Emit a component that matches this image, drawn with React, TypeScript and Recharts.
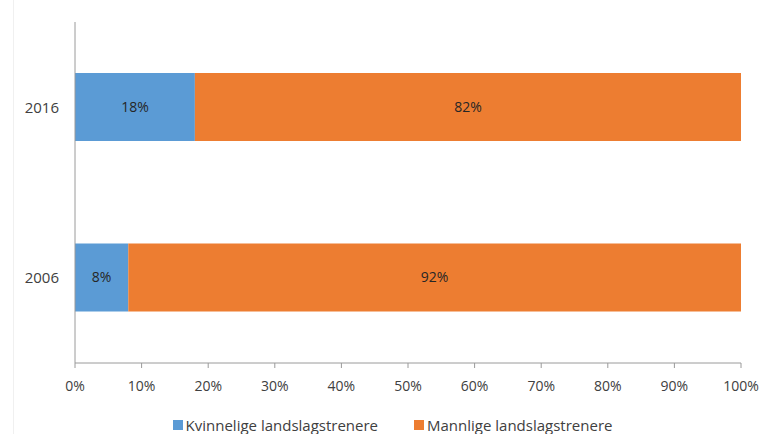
import { BarChart, Bar, XAxis, YAxis, Legend, LabelList } from 'recharts'

const years = ['2016', '2006']
const kvinner = [18, 8]
const menn = [82, 92]
const xTicks = [0, 10, 20, 30, 40, 50, 60, 70, 80, 90, 100]

const data = years.map((year, i) => ({ year, kvinner: kvinner[i], menn: menn[i] }))

const font = '"Open Sans", "Liberation Sans", sans-serif'
const textColor = '#404040'

function LegendContent() {
    const items = [
        { label: 'Kvinnelige landslagstrenere', color: '#5B9BD5' },
        { label: 'Mannlige landslagstrenere', color: '#ED7D31' },
    ]
    return (
        <div style={{ display: 'flex', justifyContent: 'center', gap: 36, paddingLeft: 34, fontFamily: font, fontSize: 15, color: textColor, lineHeight: '18px' }}>
            {items.map((it) => (
                <div key={it.label} style={{ display: 'flex', alignItems: 'center', gap: 3 }}>
                    <span style={{ width: 10, height: 10, background: it.color, display: 'inline-block' }} />
                    <span>{it.label}</span>
                </div>
            ))}
        </div>
    )
}

export default function App() {
    return (
        <div style={{ position: 'absolute', left: 0, top: 0, width: 762, height: 434, background: '#fff' }}>
            <div style={{ position: 'absolute', left: 13, top: 0, width: 1, height: 434, background: '#f0f0f0' }} />
            <BarChart
                width={762}
                height={434}
                data={data}
                layout="vertical"
                barSize={68}
                margin={{ top: 22, right: 21, bottom: 0, left: 10 }}
            >
                <XAxis
                    type="number"
                    domain={[0, 100]}
                    ticks={xTicks}
                    tickFormatter={(v) => `${v}%`}
                    stroke="#9a9a9a"
                    tickSize={5}
                    tickMargin={13}
                    height={53}
                    tick={{ fill: textColor, fontSize: 14, fontFamily: font }}
                    interval={0}
                />
                <YAxis
                    yAxisId="a"
                    type="number"
                    domain={[0, 2]}
                    ticks={[0, 1, 2]}
                    tick={false}
                    tickSize={5}
                    stroke="#9a9a9a"
                    width={1}
                />
                <YAxis
                    yAxisId="cat"
                    type="category"
                    dataKey="year"
                    axisLine={false}
                    tickLine={false}
                    tickMargin={9}
                    width={64}
                    tick={{ fill: textColor, fontSize: 15, fontFamily: font }}
                />
                <Legend verticalAlign="bottom" height={18} content={<LegendContent />} />
                <Bar yAxisId="cat" dataKey="kvinner" stackId="a" fill="#5B9BD5" isAnimationActive={false}>
                    <LabelList dataKey="kvinner" position="center" formatter={(v: any) => `${v}%`} style={{ fill: '#262626', fontSize: 14, fontFamily: font }} />
                </Bar>
                <Bar yAxisId="cat" dataKey="menn" stackId="a" fill="#ED7D31" isAnimationActive={false}>
                    <LabelList dataKey="menn" position="center" formatter={(v: any) => `${v}%`} style={{ fill: '#262626', fontSize: 14, fontFamily: font }} />
                </Bar>
            </BarChart>
        </div>
    )
}
